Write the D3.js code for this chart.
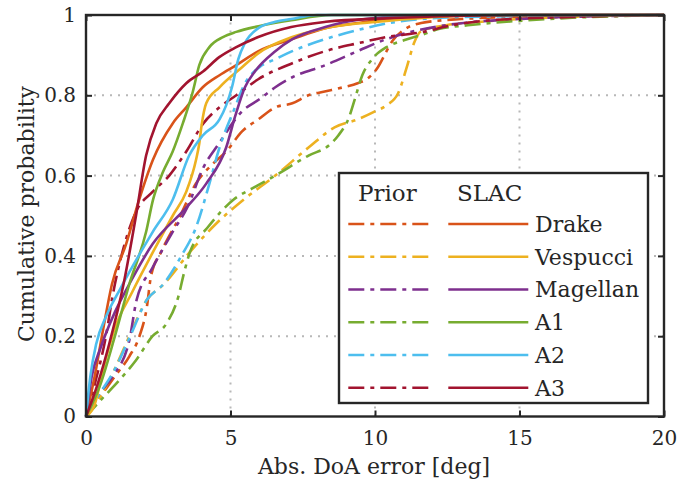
<!DOCTYPE html>
<html>
<head>
<meta charset="utf-8">
<script src="https://cdn.jsdelivr.net/npm/d3@7"></script>
<style>
  html, body { margin: 0; padding: 0; background: #fff; }
  svg { display: block; }
  svg text { font-family: "DejaVu Serif"; fill: #262626; }
</style>
</head>
<body>
<svg id="chart" width="692" height="489"></svg>
<script>
// Empirical CDFs of absolute DoA error (deg): Prior (dash-dot) vs SLAC (solid)
const seriesNames = ["Drake", "Vespucci", "Magellan", "A1", "A2", "A3"];
const seriesColors = ["#D95319", "#EDB120", "#7E2F8E", "#77AC30", "#4DBEEE", "#A2142F"];

const drakePriorErr = [0, 0.5, 1, 1.5, 1.85, 2.1, 2.25, 2.6, 3.26, 3.8, 4.4, 4.85, 5.4, 5.96, 6.55, 7.14, 7.7, 8.3, 8.9, 9.4, 9.8, 10.1, 10.4, 10.6, 11, 11.6, 13, 16, 20];
const drakePriorCdf = [0, 0.05, 0.1, 0.15, 0.2, 0.27, 0.35, 0.41, 0.5, 0.58, 0.63, 0.66, 0.71, 0.74, 0.77, 0.78, 0.8, 0.81, 0.82, 0.83, 0.845, 0.87, 0.91, 0.935, 0.963, 0.98, 0.99, 0.997, 1];

const vespucciPriorErr = [0, 0.5, 0.94, 1.5, 2.1, 2.7, 3.6, 4.5, 5.45, 6.55, 7.7, 8.6, 9.4, 10.0, 10.4, 10.8, 11.1, 11.35, 11.6, 12.5, 14, 17, 20];
const vespucciPriorCdf = [0, 0.05, 0.11, 0.2, 0.29, 0.33, 0.41, 0.48, 0.54, 0.6, 0.67, 0.72, 0.74, 0.76, 0.775, 0.805, 0.87, 0.93, 0.96, 0.975, 0.985, 0.996, 1];

const magellanPriorErr = [0, 0.5, 0.92, 1.5, 1.75, 2.3, 3.0, 3.5, 4.06, 4.6, 5.4, 6.0, 6.55, 7.14, 8.28, 9.4, 10.4, 11.2, 12.5, 15, 20];
const magellanPriorCdf = [0, 0.06, 0.1, 0.19, 0.29, 0.37, 0.46, 0.52, 0.62, 0.68, 0.76, 0.79, 0.82, 0.845, 0.875, 0.91, 0.94, 0.957, 0.975, 0.99, 1];

const a1PriorErr = [0, 0.5, 1.15, 1.73, 2.3, 2.77, 3.2, 3.4, 3.6, 4.2, 5.1, 5.8, 6.55, 7.7, 8.4, 8.73, 9.1, 9.3, 9.56, 9.9, 10.4, 11.0, 11.6, 12.2, 13.3, 16, 20];
const a1PriorCdf = [0, 0.04, 0.09, 0.14, 0.2, 0.23, 0.3, 0.36, 0.41, 0.47, 0.54, 0.57, 0.6, 0.65, 0.675, 0.7, 0.745, 0.79, 0.85, 0.89, 0.92, 0.937, 0.95, 0.965, 0.975, 0.99, 1];

const a2PriorErr = [0, 0.5, 0.94, 1.53, 2.1, 2.68, 3.3, 3.8, 4.27, 4.62, 5.1, 5.5, 6.0, 6.55, 7.14, 8.28, 9.43, 10.5, 13, 20];
const a2PriorCdf = [0, 0.06, 0.11, 0.2, 0.29, 0.33, 0.4, 0.47, 0.58, 0.67, 0.76, 0.83, 0.87, 0.89, 0.91, 0.94, 0.963, 0.98, 0.995, 1];

const a3PriorErr = [0, 0.3, 0.69, 0.92, 1.3, 1.73, 2.31, 2.88, 3.47, 4.06, 4.62, 5.2, 5.96, 7.14, 8.28, 9.43, 10.4, 11.6, 12.7, 14.2, 16.8, 20];
const a3PriorCdf = [0, 0.08, 0.2, 0.3, 0.42, 0.51, 0.56, 0.6, 0.66, 0.73, 0.77, 0.8, 0.84, 0.88, 0.91, 0.93, 0.945, 0.957, 0.975, 0.988, 0.995, 1];

const drakeSlacErr = [0, 0.3, 0.6, 0.9, 1.39, 1.84, 2.32, 3.0, 3.47, 4.04, 4.62, 5.2, 5.97, 7.14, 8.28, 9.4, 10.4, 12, 15, 20];
const drakeSlacCdf = [0, 0.1, 0.22, 0.33, 0.43, 0.54, 0.64, 0.73, 0.77, 0.82, 0.85, 0.875, 0.91, 0.94, 0.967, 0.98, 0.99, 0.996, 1, 1];

const vespucciSlacErr = [0, 0.3, 0.6, 1, 1.6, 2.32, 3.0, 3.47, 3.81, 3.92, 4.0, 4.16, 4.62, 5.4, 5.97, 7.14, 8.28, 10.4, 14, 20];
const vespucciSlacCdf = [0, 0.03, 0.12, 0.22, 0.31, 0.41, 0.5, 0.56, 0.64, 0.68, 0.725, 0.78, 0.82, 0.87, 0.905, 0.945, 0.967, 0.985, 1, 1];

const magellanSlacErr = [0, 0.2, 0.5, 1, 1.5, 2.31, 3.47, 4.16, 4.85, 5.17, 5.5, 5.85, 6.55, 7.14, 8.28, 9.43, 12, 20];
const magellanSlacCdf = [0, 0.1, 0.17, 0.26, 0.33, 0.43, 0.52, 0.58, 0.67, 0.75, 0.82, 0.86, 0.91, 0.94, 0.97, 0.988, 1, 1];

const a1SlacErr = [0, 0.5, 1, 1.5, 2.08, 2.32, 2.67, 3.0, 3.35, 3.7, 3.92, 4.27, 4.74, 5.2, 5.97, 7.1, 8.5, 20];
const a1SlacCdf = [0, 0.08, 0.2, 0.33, 0.46, 0.54, 0.61, 0.66, 0.73, 0.81, 0.875, 0.92, 0.945, 0.958, 0.972, 0.987, 1, 1];

const a2SlacErr = [0, 0.15, 0.35, 0.7, 1.2, 2.31, 3.0, 3.57, 4.04, 4.62, 4.85, 5.05, 5.27, 5.5, 5.96, 6.55, 7.1, 8, 20];
const a2SlacCdf = [0, 0.1, 0.18, 0.25, 0.32, 0.46, 0.54, 0.65, 0.7, 0.74, 0.775, 0.82, 0.89, 0.93, 0.967, 0.983, 0.99, 1, 1];

const a3SlacErr = [0, 0.4, 0.8, 1.3, 1.73, 2.08, 2.43, 2.88, 3.47, 4.06, 4.61, 5.2, 5.96, 7.1, 8.3, 10.4, 15, 20];
const a3SlacCdf = [0, 0.08, 0.18, 0.33, 0.5, 0.65, 0.73, 0.78, 0.83, 0.86, 0.895, 0.92, 0.945, 0.97, 0.983, 0.992, 1, 1];

const priorSeries = [
  [drakePriorErr, drakePriorCdf], [vespucciPriorErr, vespucciPriorCdf], [magellanPriorErr, magellanPriorCdf],
  [a1PriorErr, a1PriorCdf], [a2PriorErr, a2PriorCdf], [a3PriorErr, a3PriorCdf]
];
const slacSeries = [
  [drakeSlacErr, drakeSlacCdf], [vespucciSlacErr, vespucciSlacCdf], [magellanSlacErr, magellanSlacCdf],
  [a1SlacErr, a1SlacCdf], [a2SlacErr, a2SlacCdf], [a3SlacErr, a3SlacCdf]
];

const xTicks = [0, 5, 10, 15, 20];
const yTicks = [0, 0.2, 0.4, 0.6, 0.8, 1];
const yTickLabels = ["0", "0.2", "0.4", "0.6", "0.8", "1"];

// Layout
const plot = { left: 86, right: 664, top: 15, bottom: 416.5 };
const axisColor = "#262626";
const dashDot = "16 6 4 6";
const serif = "DejaVu Serif";

const svg = d3.select("#chart");
const x = d3.scaleLinear().domain([0, 20]).range([plot.left, plot.right]);
const y = d3.scaleLinear().domain([0, 1]).range([plot.bottom, plot.top]);

// Dotted grid
const grid = svg.append("g").attr("stroke", "#b8b8b8").attr("stroke-width", 2).attr("stroke-dasharray", "2 6");
grid.selectAll("line.gx").data(xTicks.slice(1, -1)).join("line")
  .attr("x1", d => x(d)).attr("x2", d => x(d)).attr("y1", plot.bottom).attr("y2", plot.top);
grid.selectAll("line.gy").data(yTicks.slice(1, -1)).join("line")
  .attr("y1", d => y(d)).attr("y2", d => y(d)).attr("x1", plot.left).attr("x2", plot.right);

// Curves
const line = d3.line().x(d => x(d[0])).y(d => y(d[1])).curve(d3.curveMonotoneX);
const curves = svg.append("g").attr("fill", "none").attr("stroke-width", 2.6);
priorSeries.forEach(([xs, ps], i) => {
  curves.append("path").datum(xs.map((v, k) => [v, ps[k]]))
    .attr("d", line).attr("stroke", seriesColors[i]).attr("stroke-dasharray", dashDot);
});
slacSeries.forEach(([xs, ps], i) => {
  curves.append("path").datum(xs.map((v, k) => [v, ps[k]]))
    .attr("d", line).attr("stroke", seriesColors[i]);
});

// Axes with inward ticks on all four sides
const tickLen = 6;
const xAxisB = d3.axisBottom(x).tickValues(xTicks).tickSizeInner(-tickLen).tickSizeOuter(0).tickPadding(14).tickFormat(d3.format("d"));
const yAxisL = d3.axisLeft(y).tickValues(yTicks).tickSizeInner(-tickLen).tickSizeOuter(0).tickPadding(10).tickFormat((d, i) => yTickLabels[i]);
const xAxisT = d3.axisTop(x).tickValues(xTicks).tickSizeInner(-tickLen).tickSizeOuter(0).tickFormat("");
const yAxisR = d3.axisRight(y).tickValues(yTicks).tickSizeInner(-tickLen).tickSizeOuter(0).tickFormat("");

function styleAxis(g) {
  g.attr("font-family", serif);
  g.select(".domain").remove();
  g.selectAll(".tick line").attr("stroke", axisColor).attr("stroke-width", 2);
  g.selectAll(".tick text").attr("font-size", 20).attr("font-family", serif).attr("fill", axisColor);
}
svg.append("g").attr("transform", `translate(0,${plot.bottom})`).call(xAxisB).call(styleAxis);
svg.append("g").attr("transform", `translate(${plot.left},0)`).call(yAxisL).call(styleAxis);
svg.append("g").attr("transform", `translate(0,${plot.top})`).call(xAxisT).call(styleAxis);
svg.append("g").attr("transform", `translate(${plot.right},0)`).call(yAxisR).call(styleAxis);

// Box
svg.append("rect").attr("x", plot.left).attr("y", plot.top)
  .attr("width", plot.right - plot.left).attr("height", plot.bottom - plot.top)
  .attr("fill", "none").attr("stroke", axisColor).attr("stroke-width", 2.4);

// Axis titles
svg.append("text").attr("x", 374).attr("y", 474)
  .attr("text-anchor", "middle").attr("font-family", serif).attr("font-size", 22)
  .text("Abs. DoA error [deg]");
svg.append("text").attr("transform", "translate(34,214) rotate(-90)")
  .attr("text-anchor", "middle").attr("font-family", serif).attr("font-size", 22)
  .text("Cumulative probability");

// Legend: Prior column (dash-dot), SLAC column (solid), names on the right
const legend = { left: 339, top: 173, right: 648, bottom: 403 };
const lg = svg.append("g").attr("font-family", serif);
lg.append("rect").attr("x", legend.left).attr("y", legend.top)
  .attr("width", legend.right - legend.left).attr("height", legend.bottom - legend.top)
  .attr("fill", "#fff").attr("stroke", axisColor).attr("stroke-width", 2.4);
lg.append("text").attr("x", 358).attr("y", 201).attr("font-size", 23).text("Prior");
lg.append("text").attr("x", 457).attr("y", 201).attr("font-size", 23).text("SLAC");
const rowY = d3.scaleLinear().domain([0, 5]).range([224, 387.7]);
seriesNames.forEach((name, i) => {
  const yy = rowY(i);
  lg.append("line").attr("x1", 348.3).attr("x2", 428.7).attr("y1", yy).attr("y2", yy)
    .attr("stroke", seriesColors[i]).attr("stroke-width", 2.6).attr("stroke-dasharray", dashDot);
  lg.append("line").attr("x1", 448.3).attr("x2", 528.3).attr("y1", yy).attr("y2", yy)
    .attr("stroke", seriesColors[i]).attr("stroke-width", 2.6);
  lg.append("text").attr("x", 535).attr("y", yy + 8).attr("font-size", 22).text(name);
});
</script>
</body>
</html>
